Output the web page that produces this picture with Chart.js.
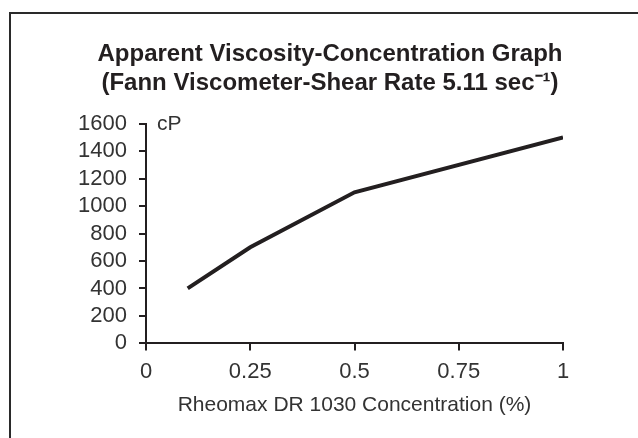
<!DOCTYPE html>
<html>
<head>
<meta charset="utf-8">
<script src="https://cdn.jsdelivr.net/npm/chart.js@4"></script>
<style>
  html, body { margin: 0; padding: 0; background: #fff; overflow: hidden; }
  #wrap { position: relative; width: 638px; height: 438px; }
  #frame { position: absolute; left: 9px; top: 12px; width: 660px; height: 460px;
           border: 2px solid #2a2a2a; pointer-events: none; }
</style>
</head>
<body>
<div id="wrap">
  <canvas id="chart" width="638" height="438"></canvas>
  <div id="frame"></div>
</div>
<script>
// ── DADOS ──────────────────────────────────────────────────────────────────
const concentration = [0.1, 0.25, 0.5, 1];
const viscosity     = [400, 700, 1100, 1500];
const xTicks = [0, 0.25, 0.5, 0.75, 1];
const yTicks = [0, 200, 400, 600, 800, 1000, 1200, 1400, 1600];

const INK  = '#231f20';
const TXT  = '#333';
const FONT = "'Liberation Sans', Arial, sans-serif";

// unidade "cP" ao lado do topo do eixo y
const unitLabel = {
  id: 'unitLabel',
  afterDraw(chart) {
    const { ctx, chartArea } = chart;
    ctx.save();
    ctx.font = '21px ' + FONT;
    ctx.fillStyle = TXT;
    ctx.textBaseline = 'middle';
    ctx.fillText('cP', chartArea.left + 11, chartArea.top + 1);
    ctx.restore();
  }
};

new Chart(document.getElementById('chart'), {
  type: 'line',
  data: {
    datasets: [{
      data: concentration.map((x, i) => ({ x, y: viscosity[i] })),
      borderColor: INK, borderWidth: 4, pointRadius: 0, tension: 0, fill: false
    }]
  },
  options: {
    responsive: false, animation: false,
    layout: { padding: { left: 22, right: 0, top: 40, bottom: 20 } },
    plugins: {
      legend: { display: false },
      tooltip: { enabled: false },
      title: {
        display: true,
        text: ['Apparent Viscosity-Concentration Graph', '(Fann Viscometer-Shear Rate 5.11 sec\u207B\u00B9)'],
        color: INK,
        font: { family: FONT, size: 24, weight: 'bold', lineHeight: 1.2 },
        padding: { top: 0, bottom: 26 }
      }
    },
    scales: {
      x: {
        type: 'linear', min: 0, max: 1,
        afterBuildTicks: s => { s.ticks = xTicks.map(v => ({ value: v })); },
        ticks: { color: TXT, font: { family: FONT, size: 22 }, padding: 8, autoSkip: false, maxRotation: 0,
                 callback: v => String(v) },
        grid: { drawOnChartArea: false, drawTicks: true, tickLength: 7, color: INK, lineWidth: 2 },
        border: { display: true, color: INK, width: 2 },
        title: { display: true, text: 'Rheomax DR 1030 Concentration (%)', color: TXT,
                 font: { family: FONT, size: 21 }, padding: { top: 0, bottom: 0 } }
      },
      y: {
        min: 0, max: 1600,
        afterBuildTicks: s => { s.ticks = yTicks.map(v => ({ value: v })); },
        afterFit: s => { s.width = 124; },
        ticks: { color: TXT, font: { family: FONT, size: 22 }, padding: 12, autoSkip: false,
                 callback: v => String(v) },
        grid: { drawOnChartArea: false, drawTicks: true, tickLength: 7, color: INK, lineWidth: 2 },
        border: { display: true, color: INK, width: 2 }
      },
      // espaço vazio à direita do gráfico
      yRight: {
        position: 'right', min: 0, max: 1,
        afterFit: s => { s.width = 75; },
        ticks: { display: false },
        grid: { display: false, drawTicks: false },
        border: { display: false }
      }
    }
  },
  plugins: [unitLabel]
});
</script>
</body>
</html>
